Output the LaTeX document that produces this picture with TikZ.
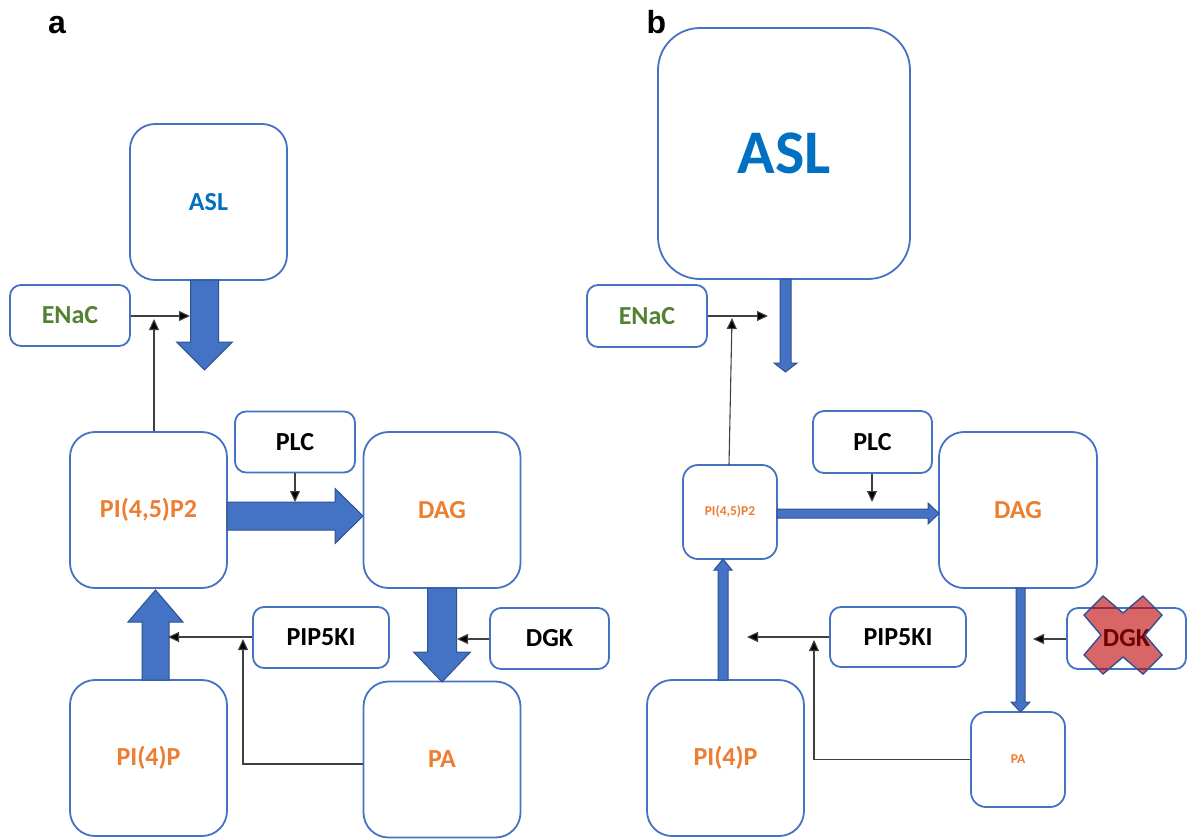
\documentclass[tikz,border=0pt]{standalone}
\usepackage{fontspec}
\setmainfont{Carlito}
\newfontfamily\panelfont{Liberation Sans}
\usetikzlibrary{arrows.meta,calc}

\definecolor{boxblue}{HTML}{4472C4}
\definecolor{edgeblue}{HTML}{2F528F}
\definecolor{aslblue}{HTML}{0070C0}
\definecolor{enacgreen}{HTML}{548235}
\definecolor{lipid}{HTML}{ED7D31}
\definecolor{stopred}{HTML}{C00000}

\tikzset{
  box/.style={draw=boxblue, line width=1.8pt, fill=white, inner sep=0pt,
    font=\bfseries\fontsize{26}{30}\selectfont},
  bigbox/.style={box, rounded corners=25pt, minimum width=157pt, minimum height=156pt},
  tagbox/.style={box, rounded corners=11pt, minimum width=120pt, minimum height=61pt},
  smallbox/.style={box, rounded corners=15pt, minimum width=94pt, minimum height=94pt,
    font=\bfseries\fontsize{13.5}{15}\selectfont},
  conn/.style={draw=black!75, line width=1.1pt,
    -{Triangle[length=11pt,width=10pt,fill=black]}},
  blockarrow/.style={fill=boxblue, draw=edgeblue, line width=1pt, line join=miter},
  panel/.style={font=\panelfont\bfseries\fontsize{32}{36}\selectfont, anchor=base},
}

\begin{document}
\begin{tikzpicture}[x=1pt, y=-1pt]
\useasboundingbox (0,0) rectangle (1188,838);

% ---------------- panel a ----------------
\node[panel] (la) at (57,33) {a};

\node[bigbox, text=aslblue] (asla) at (208.5,202) {ASL};
\node[tagbox, text=enacgreen] (enaca) at (70,315.5) {ENaC};
\node[bigbox, text=lipid] (pip2a) at (148.5,510) {PI(4,5)P2};
\node[tagbox] (plca) at (295,442) {PLC};
\node[bigbox, text=lipid] (daga) at (442,510) {DAG};
\node[tagbox, minimum width=136pt] (pip5a) at (321,637.5) {PIP5KI};
\node[tagbox, minimum width=119pt] (dgka) at (549.5,638.5) {DGK};
\node[bigbox, text=lipid] (pi4pa) at (148.5,758) {PI(4)P};
\node[bigbox, text=lipid] (paa) at (442,759.5) {PA};

% broad flux arrows
\draw[blockarrow] (190.5,280) -- (190.5,342) -- (176.5,342) -- (204.5,370)
  -- (232.5,342) -- (218.5,342) -- (218.5,280) -- cycle;
\draw[blockarrow] (227,502) -- (335,502) -- (335,488.5) -- (363,516)
  -- (335,543.5) -- (335,530) -- (227,530) -- cycle;
\draw[blockarrow] (427.5,588) -- (427.5,652) -- (413.5,652) -- (442,682)
  -- (470.5,652) -- (456.5,652) -- (456.5,588) -- cycle;
\draw[blockarrow] (142,680) -- (142,622) -- (128,622) -- (155.5,590)
  -- (183,622) -- (169,622) -- (169,680) -- cycle;

% regulatory links
\coordinate (enacTipA) at (190,316);
\coordinate (pipUpA) at (154,319);
\coordinate (plcTipA) at (295,502);
\coordinate (pip5TipA) at (168,637);
\coordinate (paCornerA) at (243,764);
\coordinate (paTipA) at (243,639);
\coordinate (dgkTipA) at (457,639);

\draw[conn] (enaca.east |- enacTipA) -- (enacTipA);
\draw[conn] (pip2a.north -| pipUpA) -- (pipUpA);
\draw[conn] (plca.south) -- (plcTipA);
\draw[conn] (pip5a.west |- pip5TipA) -- (pip5TipA);
\draw[conn] (paa.west |- paCornerA) -- (paCornerA) -- (paTipA);
\draw[conn] (dgka.west |- dgkTipA) -- (dgkTipA);

% ---------------- panel b ----------------
\node[panel] (lb) at (656.5,33) {b};

\node[box, rounded corners=42pt, minimum width=252pt, minimum height=251pt,
  text=aslblue, font=\bfseries\fontsize{62}{70}\selectfont] (aslb) at (784,153.5) {ASL};
\node[tagbox, minimum height=62pt, text=enacgreen] (enacb) at (647,316) {ENaC};
\node[smallbox, text=lipid] (pip2b) at (730,512) {PI(4,5)P2};
\node[tagbox, minimum width=119pt, minimum height=62pt] (plcb) at (872.5,442) {PLC};
\node[bigbox, minimum width=158pt, text=lipid] (dagb) at (1018,510) {DAG};
\node[tagbox, minimum width=136pt, minimum height=60pt] (pip5b) at (898,637) {PIP5KI};
\node[tagbox, minimum width=119pt] (dgkb) at (1126.5,638.5) {DGK};
\node[bigbox, text=lipid] (pi4pb) at (725.5,758) {PI(4)P};
\node[smallbox, minimum height=95pt, text=lipid] (pab) at (1018,759.5) {PA};

% narrow flux arrows
\draw[blockarrow] (780,279) -- (780,363) -- (774,363) -- (785.5,372)
  -- (797,363) -- (791,363) -- (791,279) -- cycle;
\draw[blockarrow] (777,509) -- (928,509) -- (928,503) -- (939,513.5)
  -- (928,524) -- (928,518) -- (777,518) -- cycle;
\draw[blockarrow] (1016,588) -- (1016,702) -- (1011,702) -- (1020.5,712)
  -- (1030,702) -- (1025,702) -- (1025,588) -- cycle;
\draw[blockarrow] (718,680) -- (718,570) -- (714,570) -- (723,559)
  -- (732,570) -- (728,570) -- (728,680) -- cycle;

% regulatory links
\coordinate (enacTipB) at (768,316);
\coordinate (pipFootB) at (729,465);
\coordinate (pipUpB) at (732,318);
\coordinate (plcTipB) at (872,502);
\coordinate (pip5TipB) at (747,637);
\coordinate (paCornerB) at (814,759.5);
\coordinate (paTipB) at (814,640);
\coordinate (dgkTipB) at (1033,639);

\draw[conn] (enacb.east |- enacTipB) -- (enacTipB);
\draw[conn] (pipFootB) -- (pipUpB);
\draw[conn] (plcb.south -| plcTipB) -- (plcTipB);
\draw[conn] (pip5b.west |- pip5TipB) -- (pip5TipB);
\draw[conn] (pab.west) -- (paCornerB) -- (paTipB);
\draw[conn] (dgkb.west |- dgkTipB) -- (dgkTipB);

% inhibition cross over DGK
\draw[fill=stopred, fill opacity=0.6, draw=edgeblue, line width=1.4pt, line join=miter]
  (1123,635) ++(-20,-39) -- ++(20,17) -- ++(20,-17) -- ++(19,19) -- ++(-17,20)
  -- ++(17,20) -- ++(-19,19) -- ++(-20,-17) -- ++(-20,17) -- ++(-19,-19)
  -- ++(17,-20) -- ++(-17,-20) -- cycle;
\end{tikzpicture}
\end{document}
